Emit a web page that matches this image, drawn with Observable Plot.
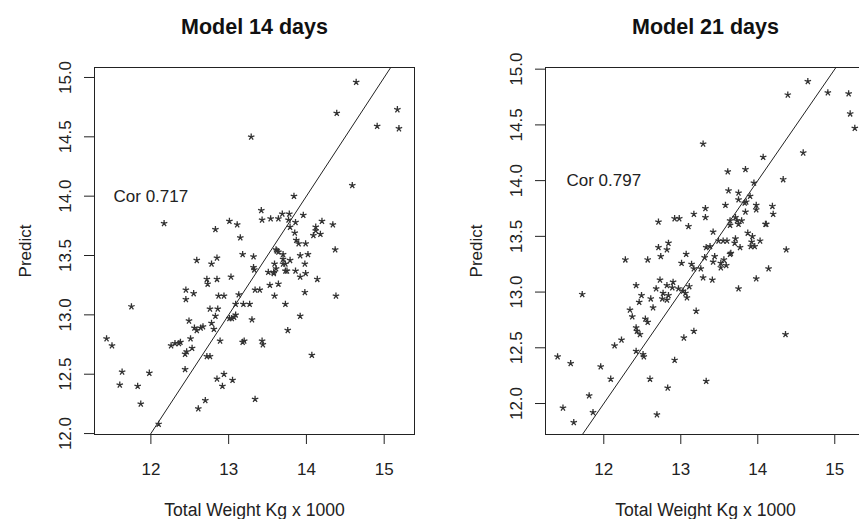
<!DOCTYPE html>
<html><head><meta charset="utf-8">
<script src="https://cdn.jsdelivr.net/npm/d3@7"></script>
<script src="https://cdn.jsdelivr.net/npm/@observablehq/plot@0.6"></script>
<style>
html,body{margin:0;padding:0;background:#fff;}
#wrap{position:relative;width:859px;height:519px;overflow:hidden;background:#fff;}
#wrap svg{position:absolute;top:0;}
</style></head><body><div id="wrap"></div>
<script>
const titles = ["Model 14 days", "Model 21 days"];
const corLabels = ["Cor 0.717", "Cor 0.797"];
const xLabel = "Total Weight Kg x 1000";
const yLabel = "Predict";
const xTicks = [12, 13, 14, 15];
const yTicks = [12, 12.5, 13, 13.5, 14, 14.5, 15];
const corPos = [12, 14];
const identityLine = [10, 16];

const points14 = [
[14.64,14.96],[15.17,14.73],[15.19,14.57],[14.91,14.59],[14.39,14.70],[13.29,14.50],[14.59,14.09],[13.84,14.00],
[12.17,13.77],[11.43,12.80],[11.50,12.74],[11.75,13.07],[11.63,12.52],[11.60,12.41],[11.83,12.40],[11.87,12.25],
[11.98,12.51],[12.10,12.08],[12.61,12.21],[12.70,12.28],[13.34,12.29],[12.85,12.46],[12.94,12.50],[12.92,12.40],
[13.05,12.45],[14.07,12.66],[13.92,12.99],[13.76,12.87],[14.38,13.16],[14.37,13.55],[14.14,13.30],[14.34,13.76],
[14.20,13.79],[14.12,13.74],[14.12,13.71],[14.18,13.68],[14.09,13.67],[13.99,13.60],[13.90,13.60],[13.87,13.63],
[13.86,13.78],[13.96,13.84],[13.85,13.69],[13.79,13.74],[13.77,13.80],[13.78,13.85],[13.69,13.85],[13.64,13.81],
[13.54,13.81],[13.43,13.80],[13.42,13.88],[13.11,13.76],[13.01,13.79],[12.83,13.72],[13.15,13.65],[13.18,13.51],
[13.32,13.49],[13.32,13.40],[13.33,13.38],[12.85,13.48],[12.78,13.43],[12.59,13.46],[12.72,13.30],[12.73,13.26],
[12.85,13.30],[13.03,13.32],[12.45,13.21],[12.55,13.18],[12.45,13.13],[12.87,13.16],[12.94,13.16],[13.13,13.17],
[13.19,13.09],[13.27,13.09],[13.09,13.09],[12.76,13.05],[12.86,13.05],[12.83,12.99],[13.09,13.00],[13.01,12.97],
[13.04,12.97],[13.30,12.96],[12.49,12.95],[12.78,12.93],[12.81,12.88],[12.56,12.89],[12.59,12.87],[12.64,12.89],
[12.67,12.90],[12.51,12.80],[12.53,12.72],[12.44,12.67],[12.46,12.69],[12.26,12.74],[12.31,12.76],[12.38,12.77],
[12.36,12.76],[12.44,12.54],[12.72,12.65],[12.76,12.65],[12.89,12.78],[13.18,12.77],[13.20,12.78],[13.43,12.78],
[13.44,12.75],[13.58,13.35],[13.51,13.36],[13.58,13.36],[13.59,13.43],[13.62,13.54],[13.61,13.55],[13.64,13.53],
[13.70,13.51],[13.70,13.47],[13.73,13.43],[13.70,13.43],[13.79,13.46],[13.61,13.39],[13.73,13.37],[13.75,13.37],
[13.86,13.37],[13.92,13.32],[13.99,13.35],[13.98,13.43],[13.92,13.50],[14.02,13.51],[13.53,13.25],[13.64,13.26],
[13.34,13.21],[13.40,13.21],[13.59,13.16],[13.73,13.09],[13.98,13.19],[13.07,12.98]
];

const points21 = [
[14.65,14.89],[14.39,14.77],[14.91,14.79],[15.18,14.78],[15.20,14.60],[15.26,14.47],[14.59,14.25],[14.07,14.21],
[14.33,14.01],[13.29,14.33],[13.84,14.10],[13.61,14.08],[13.95,13.98],[13.62,13.91],[13.75,13.89],[13.90,13.86],
[13.75,13.83],[13.85,13.81],[13.83,13.80],[13.58,13.78],[13.98,13.78],[13.98,13.74],[14.19,13.77],[14.20,13.70],
[13.32,13.75],[13.32,13.67],[13.17,13.70],[13.10,13.59],[12.92,13.66],[12.98,13.66],[12.71,13.63],[13.84,13.72],
[13.71,13.67],[13.73,13.64],[13.79,13.64],[13.75,13.61],[13.64,13.64],[13.64,13.60],[14.10,13.61],[14.11,13.61],
[13.42,13.54],[13.87,13.53],[13.93,13.50],[13.71,13.48],[13.49,13.46],[13.55,13.46],[13.60,13.46],[13.70,13.44],
[13.92,13.45],[14.03,13.46],[13.91,13.41],[13.96,13.41],[13.77,13.40],[13.38,13.41],[13.33,13.40],[13.65,13.35],
[13.64,13.34],[13.56,13.29],[13.44,13.32],[13.42,13.27],[13.52,13.26],[13.52,13.22],[13.59,13.24],[13.31,13.31],
[13.14,13.25],[13.17,13.21],[13.26,13.21],[13.07,13.34],[13.01,13.26],[13.29,13.13],[13.41,13.11],[12.84,13.44],
[12.82,13.38],[12.71,13.40],[12.74,13.32],[12.57,13.29],[12.28,13.29],[14.37,13.38],[14.14,13.21],[13.98,13.12],
[13.75,13.03],[14.36,12.62],[12.73,13.11],[12.42,13.06],[12.90,13.09],[12.82,13.06],[12.89,13.04],[12.68,13.03],
[12.97,13.03],[13.11,13.05],[12.77,12.99],[12.76,12.94],[12.84,12.97],[12.82,12.93],[12.61,12.94],[13.03,13.01],
[13.06,12.99],[13.08,12.95],[12.49,12.97],[12.46,12.91],[12.64,12.86],[12.34,12.84],[12.37,12.78],[12.54,12.76],
[12.57,12.73],[13.20,12.83],[12.42,12.68],[12.43,12.65],[12.47,12.62],[13.17,12.65],[13.04,12.59],[12.23,12.57],
[12.14,12.52],[12.42,12.47],[12.51,12.44],[12.52,12.42],[12.92,12.39],[11.96,12.33],[12.09,12.22],[12.60,12.22],
[13.33,12.20],[12.83,12.14],[12.69,11.90],[11.81,12.07],[11.86,11.92],[11.40,12.42],[11.57,12.36],[11.47,11.96],
[11.61,11.83],[11.72,12.98]
];

const panels = [
  {points: points14, title: titles[0], cor: corLabels[0], xDomain: [11.275, 15.39], yDomain: [11.992, 15.084], left: 0},
  {points: points21, title: titles[1], cor: corLabels[1], xDomain: [11.243, 15.399], yDomain: [11.722, 15.015], left: 451}
];

const ink = "#222";
const font = "'Liberation Sans', Arial, sans-serif";

// five-armed asterisk, like R's pch = "*"
const star = {
  draw(context, size) {
    const r = Math.sqrt(size / Math.PI);
    for (let i = 0; i < 5; ++i) {
      const a = (2 * Math.PI * i) / 5;
      context.moveTo(0, 0);
      context.lineTo(r * Math.sin(a), -r * Math.cos(a));
    }
  }
};

function panel(p) {
  return Plot.plot({
    width: 450, height: 519,
    marginLeft: 94, marginRight: 36, marginTop: 67, marginBottom: 85,
    x: {domain: p.xDomain},
    y: {domain: p.yDomain},
    style: {fontFamily: font, color: ink, background: "white", overflow: "visible"},
    marks: [
      Plot.axisX(xTicks, {tickSize: 10, tickPadding: 18, fontSize: 17, label: null, stroke: ink}),
      Plot.axisY(yTicks, {tickSize: 10, tickPadding: 14, tickRotate: -90, fontSize: 17, label: null,
        tickFormat: d => d.toFixed(1), stroke: ink}),
      Plot.line(identityLine, {x: d => d, y: d => d, stroke: ink, strokeWidth: 1, clip: true}),
      Plot.dot(p.points, {x: d => d[0], y: d => d[1], symbol: star, r: 3.4, stroke: "#333", strokeWidth: 1.3}),
      Plot.text([{x: corPos[0], y: corPos[1], t: p.cor}], {x: "x", y: "y", text: "t", fontSize: 17, fill: ink}),
      Plot.frame({stroke: ink, strokeWidth: 1}),
      Plot.text([p.title], {frameAnchor: "top", lineAnchor: "bottom", dy: -34, fontSize: 21.5, fontWeight: "bold", fill: "#111"}),
      Plot.text([xLabel], {frameAnchor: "bottom", lineAnchor: "bottom", dy: 81, fontSize: 17.6, fill: ink}),
      Plot.text([yLabel], {frameAnchor: "left", textAnchor: "middle", lineAnchor: "middle", rotate: -90, dx: -69, fontSize: 17, fill: ink})
    ]
  });
}

const wrap = document.getElementById("wrap");
for (const p of panels) {
  const svg = panel(p);
  svg.style.left = p.left + "px";
  wrap.appendChild(svg);
}
</script>
</body></html>
